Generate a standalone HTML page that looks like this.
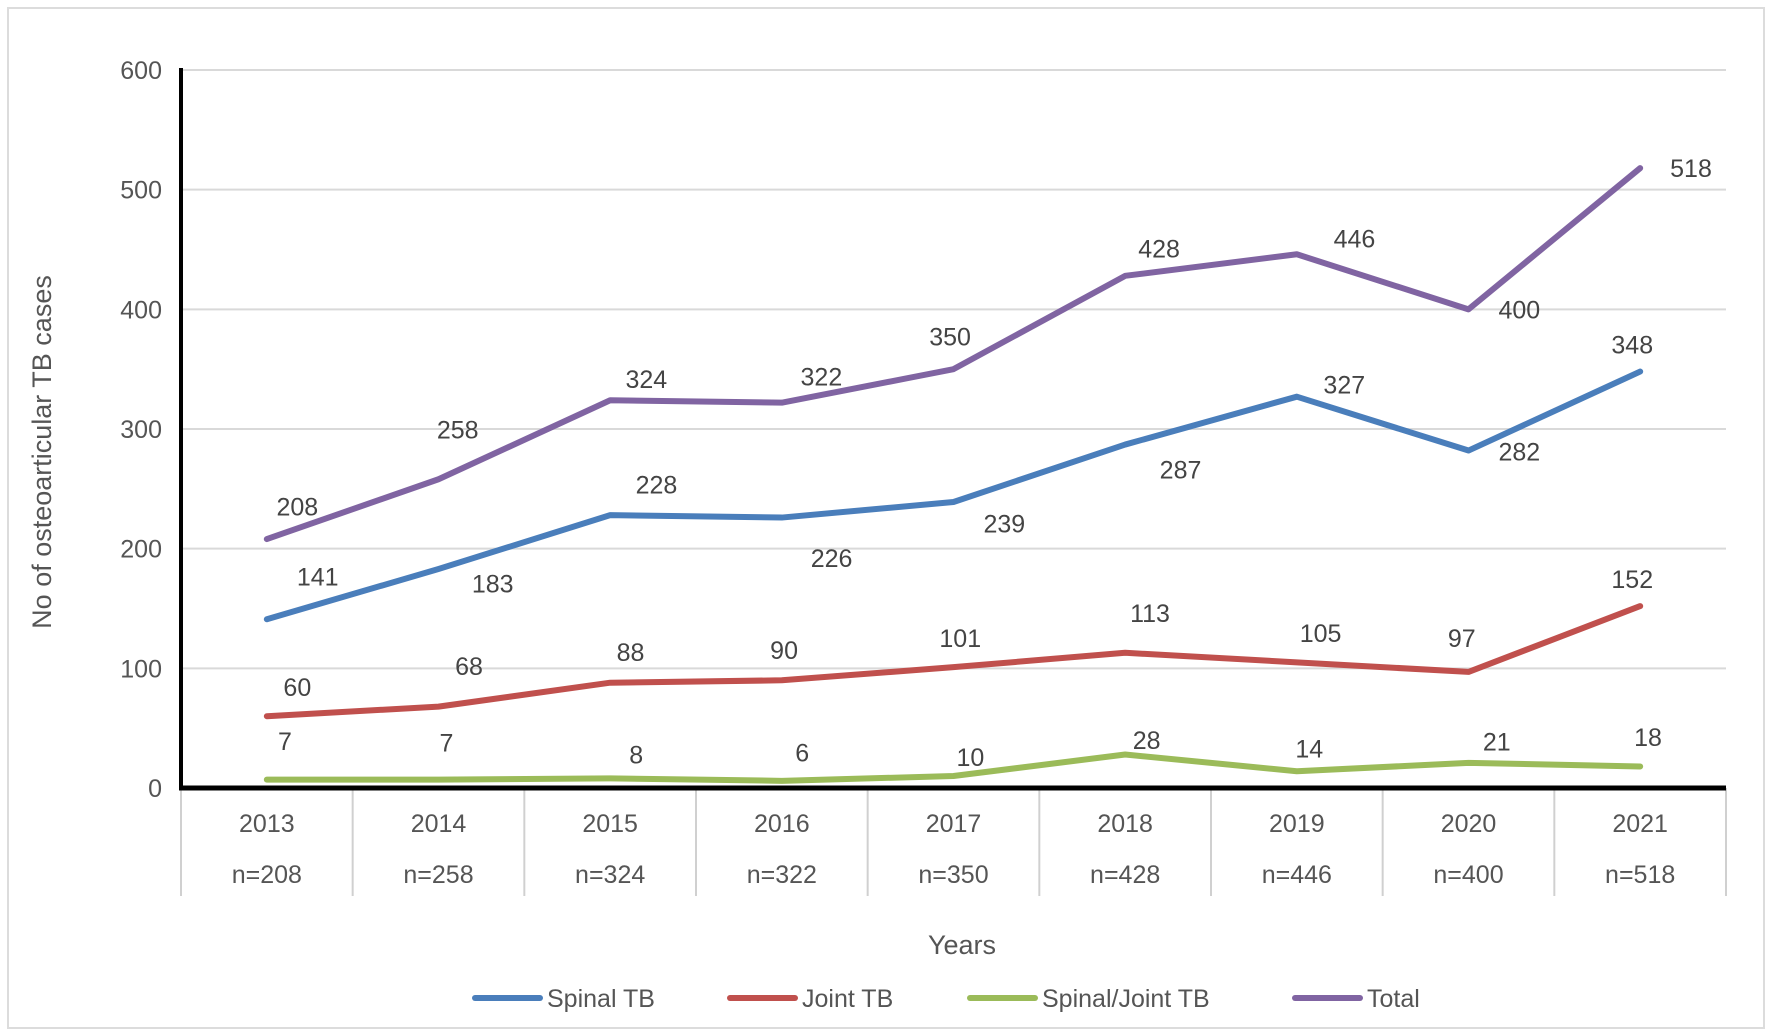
<!DOCTYPE html>
<html><head><meta charset="utf-8"><style>
html,body{margin:0;padding:0;background:#fff;}
svg{display:block;font-family:"Liberation Sans",sans-serif;}
</style></head><body>
<svg id="chart" width="1772" height="1035" viewBox="0 0 1772 1035" xmlns="http://www.w3.org/2000/svg">
<rect x="8" y="8" width="1756" height="1020" fill="#fff" stroke="#dcdcdc" stroke-width="2"/>
<g id="grid"></g><g id="xcats"></g><g id="series"></g><g id="labels"></g><g id="axes"></g>
<text transform="translate(51,452) rotate(-90)" text-anchor="middle" font-size="27" fill="#555">No of osteoarticular TB cases</text>
<text x="962" y="954" text-anchor="middle" font-size="27" fill="#555">Years</text>
<g id="legend"></g>
</svg>
<script>
const years=["2013","2014","2015","2016","2017","2018","2019","2020","2021"];
const totals=["n=208","n=258","n=324","n=322","n=350","n=428","n=446","n=400","n=518"];
const spinal=[141,183,228,226,239,287,327,282,348];
const joint=[60,68,88,90,101,113,105,97,152];
const spinalJoint=[7,7,8,6,10,28,14,21,18];
const total=[208,258,324,322,350,428,446,400,518];
const yTicks=[0,100,200,300,400,500,600];
const seriesNames=["Spinal TB","Joint TB","Spinal/Joint TB","Total"];
const NS="http://www.w3.org/2000/svg";
const X0=181,X1=1726,Y0=788,Y1=70,YMAX=600;
const cw=(X1-X0)/years.length;
const xs=i=>X0+cw*(i+0.5);
const ys=v=>Y0-(v/YMAX)*(Y0-Y1);
function mk(tag,attrs,parent,text){const e=document.createElementNS(NS,tag);for(const k in attrs)e.setAttribute(k,attrs[k]);if(text!==undefined)e.textContent=text;parent.appendChild(e);return e;}
const grid=document.getElementById('grid');
yTicks.forEach(t=>{
  if(t>0){const l=mk('line',{x1:X0,x2:X1,y1:ys(t),y2:ys(t),stroke:'#d9d9d9','stroke-width':2},grid);
  
  }
  const tx=mk('text',{x:162,y:ys(t)+9,'text-anchor':'end','font-size':25,fill:'#555'},grid,String(t));
  
  
});
const xc=document.getElementById('xcats');
for(let i=0;i<=years.length;i++){
  const l=mk('line',{x1:X0+cw*i,x2:X0+cw*i,y1:Y0,y2:896,stroke:'#d0d0d0','stroke-width':2},xc);
  
  
}
years.forEach((y,i)=>{
  const a=mk('text',{x:xs(i),y:832,'text-anchor':'middle','font-size':25,fill:'#555'},xc,y);
  
  
  const b=mk('text',{x:xs(i),y:883,'text-anchor':'middle','font-size':25,fill:'#555'},xc,totals[i]);
  
  
});
const colors=["#4a7ebb","#c0504d","#9bbb59","#8064a2"];
const data=[spinal,joint,spinalJoint,total];
// label offsets (layout, not data)
const offs=[
 [[45,-38],[48,13],[41,-27],[44,36],[45,19],[49,22],[42,-11],[45,1],[-7,-24]],
 [[27,-26],[27,-36],[18,-27],[2,-27],[6,-26],[22,-35],[21,-26],[-6,-30],[-7,-24]],
 [[16,-34],[7,-33],[23,-21],[18,-25],[15,-17],[19,-13],[11,-20],[25,-19],[7,-26]],
 [[27,-29],[17,-44],[32,-19],[35,-23],[-3,-29],[30,-24],[51,-14],[45,0],[45,0]]];
const sg=document.getElementById('series'),lg=document.getElementById('labels');
data.forEach((arr,s)=>{
  const p=mk('polyline',{points:arr.map((v,i)=>xs(i)+','+ys(v)).join(' '),fill:'none',stroke:colors[s],'stroke-width':6,'stroke-linejoin':'round','stroke-linecap':'round'},sg);
  
  
  arr.forEach((v,i)=>{
    const dx=offs[s][i][0]*1.13,dy=offs[s][i][1]*1.13;
    const t=mk('text',{x:xs(i)+dx,y:ys(v)+dy+9,'text-anchor':'middle','font-size':25,fill:'#444'},lg,String(v));
    
    
  });
});
const ax=document.getElementById('axes');
const ya=mk('line',{x1:X0,x2:X0,y1:Y1-2,y2:Y0+2,stroke:'#000','stroke-width':4},ax);


const xa=mk('line',{x1:X0-2,x2:X1,y1:Y0,y2:Y0,stroke:'#000','stroke-width':5},ax);


const leg=document.getElementById('legend');
const lx=[475,730,970,1295];
seriesNames.forEach((n,s)=>{
  const g=mk('g',{},leg);
  
  
  mk('line',{x1:lx[s],x2:lx[s]+65,y1:998,y2:998,stroke:colors[s],'stroke-width':6,'stroke-linecap':'round'},g);
  mk('text',{x:lx[s]+72,y:1007,'font-size':25,fill:'#555'},g,n);
});
</script>
</body></html>
